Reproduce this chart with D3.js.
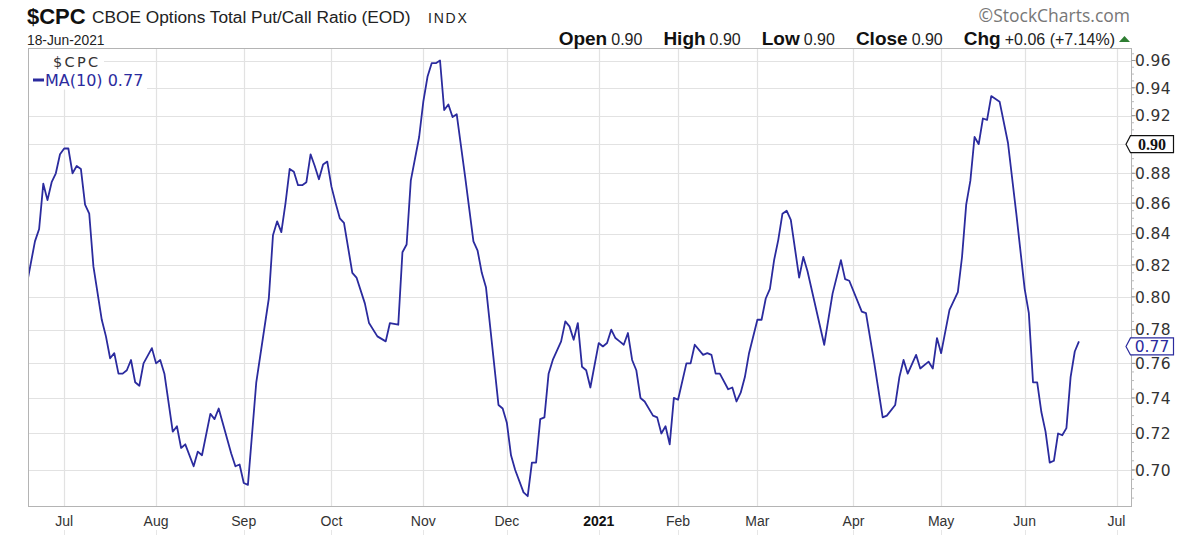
<!DOCTYPE html>
<html>
<head>
<meta charset="utf-8">
<script src="https://cdn.jsdelivr.net/npm/d3@7"></script>
<style>
  html, body { margin: 0; padding: 0; background: #fff; }
  svg { display: block; font-family: "Liberation Sans", Arial, sans-serif; }
</style>
</head>
<body>
<svg id="chart" width="1200" height="535"></svg>
<script>
// ---- DATA ----
// trading-session number counted from 18-Jun-2020 (session 0) to 18-Jun-2021 (session 252)
const sessions = [0,2,3,4,5,6,7,8,9,10,11,12,13,14,15,16,18,19,20,21,22,23,24,25,26,27,28,30,31,32,33,35,36,37,38,40,41,42,44,45,46,49,50,51,52,53,55,58,59,60,61,62,63,64,65,66,67,68,69,70,71,72,73,74,75,76,78,79,81,82,84,86,87,89,90,91,92,94,95,96,97,98,99,100,101,102,103,105,107,108,109,110,113,114,115,116,117,119,120,121,122,123,124,125,126,128,129,130,131,132,133,134,135,137,138,139,140,141,142,143,144,145,146,147,148,150,151,152,153,154,155,156,158,159,160,162,163,164,165,166,168,169,170,171,172,173,175,176,177,178,179,180,181,182,183,185,186,187,191,193,195,196,197,200,201,203,205,206,208,209,210,211,213,214,216,217,218,219,221,223,224,225,226,227,228,229,230,231,233,235,237,239,240,241,242,243,244,245,246,247,248,249,250,251,252];
const ma10 = [0.807,0.835,0.843,0.873,0.862,0.874,0.880,0.893,0.897,0.897,0.880,0.885,0.883,0.859,0.853,0.819,0.786,0.776,0.763,0.766,0.754,0.754,0.756,0.762,0.749,0.747,0.760,0.769,0.760,0.762,0.754,0.721,0.724,0.712,0.714,0.702,0.710,0.708,0.731,0.728,0.734,0.709,0.702,0.703,0.693,0.692,0.749,0.799,0.839,0.848,0.841,0.860,0.883,0.881,0.872,0.872,0.874,0.893,0.885,0.876,0.886,0.888,0.871,0.860,0.850,0.847,0.815,0.812,0.796,0.784,0.776,0.773,0.784,0.783,0.828,0.833,0.875,0.905,0.930,0.948,0.958,0.958,0.960,0.924,0.928,0.919,0.921,0.878,0.835,0.829,0.815,0.806,0.736,0.734,0.726,0.708,0.700,0.688,0.686,0.704,0.704,0.728,0.729,0.754,0.762,0.773,0.785,0.782,0.774,0.784,0.758,0.756,0.746,0.772,0.770,0.772,0.780,0.775,0.773,0.771,0.778,0.762,0.756,0.740,0.738,0.730,0.729,0.720,0.724,0.714,0.740,0.739,0.760,0.760,0.771,0.765,0.766,0.765,0.754,0.754,0.745,0.746,0.738,0.743,0.752,0.766,0.786,0.786,0.799,0.805,0.823,0.836,0.853,0.855,0.849,0.812,0.825,0.816,0.771,0.802,0.823,0.811,0.810,0.791,0.790,0.760,0.729,0.730,0.736,0.752,0.762,0.754,0.765,0.757,0.761,0.757,0.775,0.766,0.792,0.803,0.825,0.859,0.875,0.905,0.900,0.918,0.917,0.934,0.930,0.901,0.853,0.805,0.790,0.749,0.749,0.732,0.721,0.704,0.705,0.720,0.719,0.723,0.752,0.767,0.773];

// month axis: label and first trading session of that month
const monthLabels   = ["Jul","Aug","Sep","Oct","Nov","Dec","2021","Feb","Mar","Apr","May","Jun","Jul"];
const monthSessions = [9,31,52,73,95,115,137,156,175,198,219,239,261];

const yTicks = [0.70,0.72,0.74,0.76,0.78,0.80,0.82,0.84,0.86,0.88,0.90,0.92,0.94,0.96];

const symbol = "$CPC";
const title = "CBOE Options Total Put/Call Ratio (EOD)";
const exchange = "INDX";
const dateLabel = "18-Jun-2021";
const quote = [["Open","0.90"],["High","0.90"],["Low","0.90"],["Close","0.90"],["Chg","+0.06 (+7.14%)"]];
const lastClose = 0.90;
const lastMA = 0.77;
const maLabel = "MA(10) 0.77";

// ---- LAYOUT ----
const plot = { left: 28.5, top: 48.5, right: 1131.5, bottom: 506.5 };
const lineColor = "#2b2b9e";
const wideFont = "'DejaVu Sans', Verdana, sans-serif";

const svg = d3.select("#chart");

const x = d3.scaleLinear().domain([0, 252]).range([26.6, 26.6 + 252 * 4.176]);
const y = d3.scaleLog().domain([0.70, 0.96]).range([470, 60.5]);

svg.append("defs").append("clipPath").attr("id", "clip")
  .append("rect").attr("x", plot.left).attr("y", plot.top)
  .attr("width", plot.right - plot.left).attr("height", plot.bottom - plot.top);

// horizontal grid
svg.append("g").selectAll("line").data(yTicks).join("line")
  .attr("x1", plot.left).attr("x2", plot.right)
  .attr("y1", d => Math.round(y(d)) + 0.5).attr("y2", d => Math.round(y(d)) + 0.5)
  .attr("stroke", "#e2e2e2").attr("stroke-width", 1.2);

// vertical grid
svg.append("g").selectAll("line").data(monthSessions).join("line")
  .attr("x1", d => Math.round(x(d)) + 0.5).attr("x2", d => Math.round(x(d)) + 0.5)
  .attr("y1", plot.top).attr("y2", plot.bottom)
  .attr("stroke", "#e2e2e2").attr("stroke-width", 1.2);

// small ticks below x labels
svg.append("g").selectAll("line").data(monthSessions).join("line")
  .attr("x1", d => Math.round(x(d)) + 0.5).attr("x2", d => Math.round(x(d)) + 0.5)
  .attr("y1", 530).attr("y2", 535)
  .attr("stroke", "#e6e6e6");

// legend background boxes (cover gridlines)
svg.append("rect").attr("x", plot.left + 0.5).attr("y", plot.top + 0.5).attr("width", 75).attr("height", 20).attr("fill", "#fff");
svg.append("rect").attr("x", plot.left + 0.5).attr("y", plot.top + 18).attr("width", 118).attr("height", 23).attr("fill", "#fff");

// line
const line = d3.line().x((d, i) => x(sessions[i])).y(d => y(d));
svg.append("path").datum(ma10)
  .attr("clip-path", "url(#clip)")
  .attr("d", line)
  .attr("fill", "none").attr("stroke", lineColor).attr("stroke-width", 1.8)
  .attr("stroke-linejoin", "round");

// plot frame
svg.append("rect").attr("x", plot.left).attr("y", plot.top)
  .attr("width", plot.right - plot.left).attr("height", plot.bottom - plot.top)
  .attr("fill", "none").attr("stroke", "#b4b4b4").attr("stroke-width", 1);

// right minor ticks
const minor = d3.range(0.685, 0.9651, 0.005);
svg.append("g").selectAll("line").data(minor).join("line")
  .attr("x1", plot.right).attr("x2", plot.right + 2.5)
  .attr("y1", d => y(d)).attr("y2", d => y(d))
  .attr("stroke", "#bbb");
svg.append("g").selectAll("line").data(yTicks).join("line")
  .attr("x1", plot.right).attr("x2", plot.right + 4)
  .attr("y1", d => y(d)).attr("y2", d => y(d))
  .attr("stroke", "#999");

// y labels (the 0.90 label is replaced by the last-value tag)
svg.append("g").selectAll("text").data(yTicks.filter(d => Math.abs(d - lastClose) > 1e-6)).join("text")
  .attr("x", 1135).attr("y", d => y(d)).attr("dy", "0.37em")
  .attr("font-family", wideFont)
  .attr("font-size", 15.5).attr("letter-spacing", 0.4).attr("fill", "#333")
  .text(d => d.toFixed(2));

// x labels
svg.append("g").selectAll("text").data(monthLabels).join("text")
  .attr("x", (d, i) => x(monthSessions[i]))
  .attr("y", 526)
  .attr("text-anchor", "middle")
  .attr("font-size", 14)
  .attr("font-weight", d => d === "2021" ? "bold" : "normal")
  .attr("fill", d => d === "2021" ? "#111" : "#333")
  .text(d => d);

// value tags
function tag(v, stroke, color, bold) {
  const yy = y(v);
  const g = svg.append("g");
  g.append("path")
    .attr("d", `M1126,${yy} L1130.5,${yy - 8.5} L1173.5,${yy - 8.5} L1173.5,${yy + 8.5} L1130.5,${yy + 8.5} Z`)
    .attr("fill", "#fff").attr("stroke", stroke).attr("stroke-width", 1.2);
  g.append("text").attr("x", 1152).attr("y", yy).attr("dy", "0.37em")
    .attr("text-anchor", "middle")
    .attr("font-size", bold ? 16 : 15.5)
    .attr("font-weight", bold ? "bold" : "normal")
    .attr("font-family", bold ? "'Liberation Serif', serif" : wideFont)
    .attr("fill", color).text(v.toFixed(2));
}
tag(lastMA, lineColor, lineColor, false);
tag(lastClose, "#111", "#111", true);

// legend
svg.append("text").attr("x", 53).attr("y", 67).attr("font-family", wideFont).attr("font-size", 14.5)
  .attr("letter-spacing", 2.3).attr("fill", "#333").text(symbol);
svg.append("line").attr("x1", 33).attr("x2", 44).attr("y1", 80).attr("y2", 80)
  .attr("stroke", lineColor).attr("stroke-width", 3);
svg.append("text").attr("x", 45).attr("y", 85.5).attr("font-family", wideFont).attr("font-size", 16)
  .attr("fill", lineColor).text(maLabel);

// header
svg.append("text").attr("x", 27).attr("y", 24).attr("font-size", 22).attr("font-weight", "bold")
  .attr("fill", "#111").text(symbol);
svg.append("text").attr("x", 92).attr("y", 23).attr("font-size", 17.3).attr("fill", "#222").text(title);
svg.append("text").attr("x", 428).attr("y", 23).attr("font-size", 14).attr("letter-spacing", 1.8)
  .attr("fill", "#222").text(exchange);

svg.append("text").attr("x", 27).attr("y", 45).attr("font-size", 13.8).attr("fill", "#222").text(dateLabel);

svg.append("text").attr("x", 1130).attr("y", 22).attr("text-anchor", "end")
  .attr("font-family", "'Open Sans', sans-serif").attr("font-size", 17.5).attr("fill", "#777")
  .text("\u00A9StockCharts.com");

const q = svg.append("text").attr("x", 1115).attr("y", 45).attr("text-anchor", "end");
quote.forEach(([k, v], i) => {
  q.append("tspan").attr("dx", i === 0 ? 0 : 21).attr("font-size", 19).attr("font-weight", "bold").attr("fill", "#111").text(k);
  q.append("tspan").attr("dx", 4).attr("font-size", 16).attr("fill", "#222").text(v);
});
svg.append("path").attr("d", "M1119,42 L1130,42 L1124.5,36 Z").attr("fill", "#2e7d32");
</script>
</body>
</html>
